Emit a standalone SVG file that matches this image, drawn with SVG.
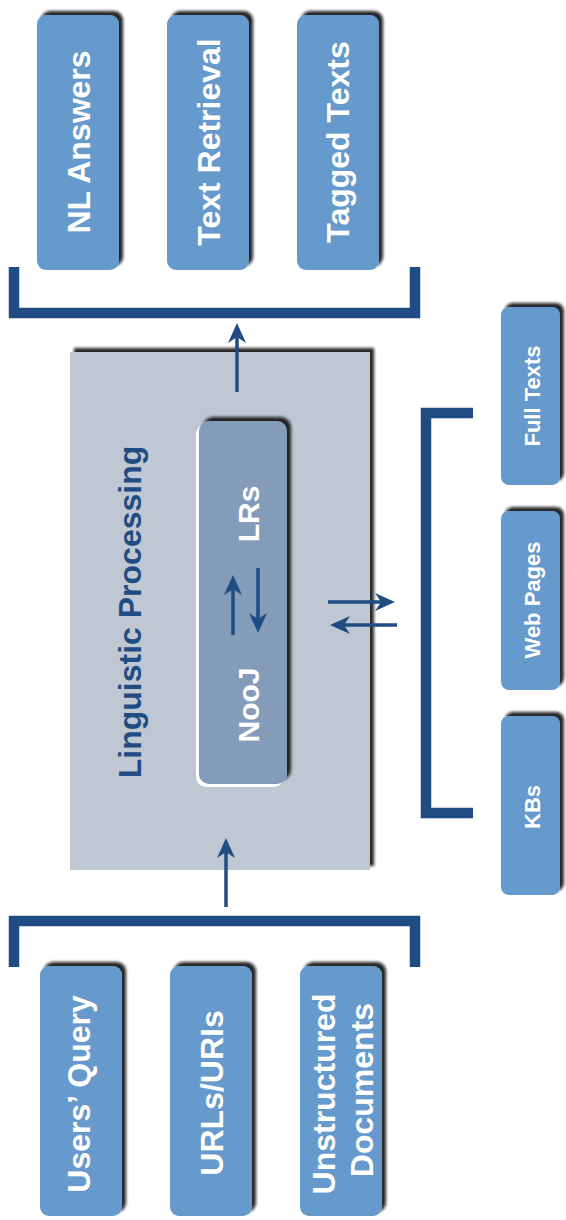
<svg xmlns="http://www.w3.org/2000/svg" width="566" height="1220" viewBox="0 0 566 1220">
<defs>
<filter id="sh" x="-20%" y="-20%" width="140%" height="140%">
<feGaussianBlur in="SourceAlpha" stdDeviation="1.6" result="b"/>
<feOffset in="b" dx="4" dy="-4" result="o"/>
<feFlood flood-color="#111" flood-opacity="0.9"/>
<feComposite in2="o" operator="in" result="s"/>
<feMerge><feMergeNode in="s"/><feMergeNode in="SourceGraphic"/></feMerge>
</filter>
<marker id="ah" viewBox="-21 -11 24 22" refX="-8" refY="0" markerWidth="24" markerHeight="22" markerUnits="userSpaceOnUse" orient="auto">
<path d="M0,0 L-20,-9 L-14,0 L-20,9 Z" fill="#1f4c82"/>
</marker>
<style>
.box{fill:#6699cc;filter:url(#sh)}
.main{fill:#bfc7d3;filter:url(#sh)}
.inner{fill:#849bb9;filter:url(#sh)}
.t{font-family:"Liberation Sans",Arial,sans-serif;font-weight:bold;fill:#fff;text-anchor:middle}
.big{font-size:32px}
.mid{font-size:30px}
.sm{font-size:22px}
.title{font-family:"Liberation Sans",Arial,sans-serif;font-weight:bold;font-size:32px;fill:#1f4c82;text-anchor:middle}
.br{fill:none;stroke:#1f4c82;stroke-width:10.5;stroke-linecap:butt;stroke-linejoin:miter}
.ar{stroke:#1f4c82;stroke-width:3.5;fill:none;marker-end:url(#ah)}
</style>
</defs>
<rect width="566" height="1220" fill="#fff"/>

<g id="main-box">
<rect class="main" x="70" y="352" width="300" height="518"/>
<text class="title" transform="translate(141,612) rotate(-90)">Linguistic Processing</text>
</g>

<g id="nooj-lrs">
<rect x="196" y="424" width="88" height="363" rx="10" fill="#fff"/>
<rect class="inner" x="199" y="421" width="88" height="363" rx="10"/>
<text class="t mid" transform="translate(259,705) rotate(-90)">NooJ</text>
<text class="t mid" transform="translate(259,514) rotate(-90)">LRs</text>
</g>

<g id="nl-answers">
<rect class="box" x="37" y="15" width="82" height="255" rx="9"/>
<text class="t big" transform="translate(90,142) rotate(-90)">NL Answers</text>
</g>
<g id="text-retrieval">
<rect class="box" x="167" y="15" width="82" height="255" rx="9"/>
<text class="t big" transform="translate(220,142) rotate(-90)">Text Retrieval</text>
</g>
<g id="tagged-texts">
<rect class="box" x="297" y="15" width="82" height="255" rx="9"/>
<text class="t big" transform="translate(349,142) rotate(-90)">Tagged Texts</text>
</g>

<g id="users-query">
<rect class="box" x="40" y="966" width="82" height="250" rx="9"/>
<text class="t big" transform="translate(90,1094) rotate(-90)">Users’ Query</text>
</g>
<g id="urls-uris">
<rect class="box" x="170" y="966" width="82" height="250" rx="9"/>
<text class="t big" transform="translate(223,1093) rotate(-90)">URLs/URIs</text>
</g>
<g id="unstructured-documents">
<rect class="box" x="300" y="966" width="82" height="250" rx="9"/>
<text class="t big" transform="translate(335,1094) rotate(-90)">Unstructured</text>
<text class="t big" transform="translate(373,1090) rotate(-90)">Documents</text>
</g>

<g id="full-texts">
<rect class="box" x="501" y="307" width="59" height="178" rx="8"/>
<text class="t sm" transform="translate(540,396) rotate(-90)">Full Texts</text>
</g>
<g id="web-pages">
<rect class="box" x="501" y="511" width="59" height="179" rx="8"/>
<text class="t sm" transform="translate(540,600) rotate(-90)">Web Pages</text>
</g>
<g id="kbs">
<rect class="box" x="501" y="716" width="59" height="179" rx="8"/>
<text class="t sm" transform="translate(540,807) rotate(-90)">KBs</text>
</g>

<g id="connectors">
<path class="br" d="M14,267 V313 H415 V267"/>
<path class="br" d="M14,967 V921 H415 V967"/>
<path class="br" d="M473,413 H426 V813 H473"/>
<line class="ar" x1="237" y1="392" x2="237" y2="331"/>
<line class="ar" x1="226" y1="907" x2="226" y2="846"/>
<line class="ar" x1="233" y1="635" x2="233" y2="583"/>
<line class="ar" x1="258" y1="568" x2="258" y2="625"/>
<line class="ar" x1="328" y1="602" x2="387" y2="602"/>
<line class="ar" x1="397" y1="625" x2="338" y2="625"/>
</g>
</svg>
